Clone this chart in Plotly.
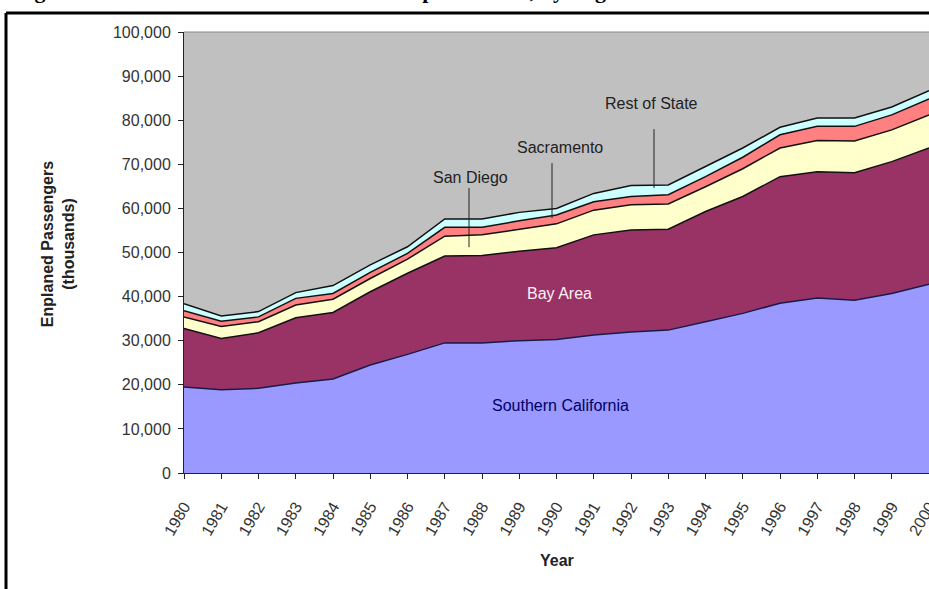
import plotly.graph_objects as go

years = list(range(1980, 2001))
southern_california = [19500, 18900, 19200, 20400, 21300, 24500, 26900, 29500, 29500, 30000,
                       30300, 31300, 32000, 32400, 34300, 36200, 38500, 39700, 39200, 40700, 42800]
bay_area = [13300, 11600, 12600, 14800, 15100, 16600, 18400, 19700, 19800, 20300,
            20800, 22700, 23100, 22900, 25000, 26500, 28700, 28600, 28900, 29900, 30900]
san_diego = [2600, 2700, 2500, 2900, 3000, 3000, 3200, 4500, 4700, 5000,
             5400, 5600, 5700, 5700, 5600, 6300, 6500, 7100, 7200, 7200, 7500]
sacramento = [1400, 1200, 1100, 1500, 1300, 1400, 1300, 2000, 1700, 1900,
              2000, 1900, 1900, 2100, 2300, 2600, 3000, 3200, 3300, 3400, 3600]
rest_of_state = [1600, 1200, 1200, 1300, 1800, 1700, 1500, 1900, 1900, 1900,
                 1500, 1900, 2500, 2200, 2300, 2100, 1700, 1900, 1900, 1800, 1900]

series = [
    ("Southern California", southern_california, "#9999FF", "#1a1a4a"),
    ("Bay Area", bay_area, "#993366", "#111111"),
    ("San Diego", san_diego, "#FFFFCC", "#111111"),
    ("Sacramento", sacramento, "#FF8080", "#111111"),
    ("Rest of State", rest_of_state, "#CCFFFF", "#111111"),
]

fig = go.Figure()
for name, vals, fill, lc in series:
    fig.add_trace(go.Scatter(x=years, y=vals, name=name, mode="lines",
                             stackgroup="one", fillcolor=fill,
                             line=dict(color=lc, width=1.5)))

L, R, T, B = 184, 929, 32, 472.7
W, H = 929, 589
def px(x):
    return (x - L) / (R - L)
def py(y):
    return (B - y) / (B - T)

font = "Arial, Liberation Sans, sans-serif"
fig.update_layout(
    width=W, height=H,
    margin=dict(l=L, r=W - R, t=T, b=H - B, pad=0, autoexpand=False),
    paper_bgcolor="white", plot_bgcolor="#C0C0C0",
    showlegend=False,
    font=dict(family=font, size=16, color="#222222"),
    xaxis=dict(range=[1980, 2000], tickmode="array", tickvals=years,
               ticktext=[str(y) for y in years], tickangle=-60,
               ticks="outside", ticklen=5, tickcolor="#222", showgrid=False,
               showline=True, linecolor="#222", linewidth=1, zeroline=False,
               tickfont=dict(size=16, color="#333"), ticklabelstandoff=12,
               ticklabeloverflow="allow", automargin=False),
    yaxis=dict(range=[0, 100000], dtick=10000, tickformat=",d",
               ticks="outside", ticklen=5, tickcolor="#222", showgrid=False,
               showline=True, linecolor="#222", linewidth=1, zeroline=False,
               tickfont=dict(size=16, color="#333"), ticklabelstandoff=4,
               automargin=False),
)

# top border of plot area
fig.add_shape(type="line", xref="paper", yref="paper", x0=0, x1=1.02, y0=1, y1=1,
              line=dict(color="#888888", width=1))
# page frame
fig.add_shape(type="line", xref="paper", yref="paper", x0=px(6), x1=px(940), y0=py(13), y1=py(13),
              line=dict(color="black", width=3))
fig.add_shape(type="line", xref="paper", yref="paper", x0=px(6), x1=px(6), y0=py(13), y1=py(600),
              line=dict(color="black", width=3))

annos = [
    dict(text="<b>Figure 2-1: Historical California Airline Enplanements, by Region</b>", x=px(14), y=py(-9),
         xanchor="left", yanchor="middle",
         font=dict(family="Liberation Serif, Times New Roman, serif", size=22, color="black")),
    dict(text="<b>Enplaned Passengers</b><br><b>(thousands)</b>", x=px(58), y=py(244),
         textangle=-90, xanchor="center", yanchor="middle", font=dict(size=16, color="#222")),
    dict(text="<b>Year</b>", x=px(557), y=py(560), xanchor="center", yanchor="middle",
         font=dict(size=16, color="#222")),
    dict(text="Southern California", x=px(560), y=py(405), xanchor="center", yanchor="middle",
         font=dict(size=16, color="#000066")),
    dict(text="Bay Area", x=px(559), y=py(293), xanchor="center", yanchor="middle",
         font=dict(size=16, color="#FFF0F5")),
    dict(text="San Diego", x=px(470), y=py(177), xanchor="center", yanchor="middle",
         font=dict(size=16, color="#222")),
    dict(text="Sacramento", x=px(560), y=py(147), xanchor="center", yanchor="middle",
         font=dict(size=16, color="#222")),
    dict(text="Rest of State", x=px(651), y=py(103), xanchor="center", yanchor="middle",
         font=dict(size=16, color="#222")),
]
for a in annos:
    fig.add_annotation(xref="paper", yref="paper", showarrow=False, borderpad=0, **a)

# leader lines
for xx, y0, y1 in [(469, 188, 247), (552, 163, 218), (654, 129, 188)]:
    fig.add_shape(type="line", xref="paper", yref="paper", x0=px(xx), x1=px(xx),
                  y0=py(y0), y1=py(y1), line=dict(color="#222", width=1))

fig.write_html("out.html", config={"displayModeBar": False},
               post_script="document.body.style.margin='0';document.body.style.overflow='hidden';")
